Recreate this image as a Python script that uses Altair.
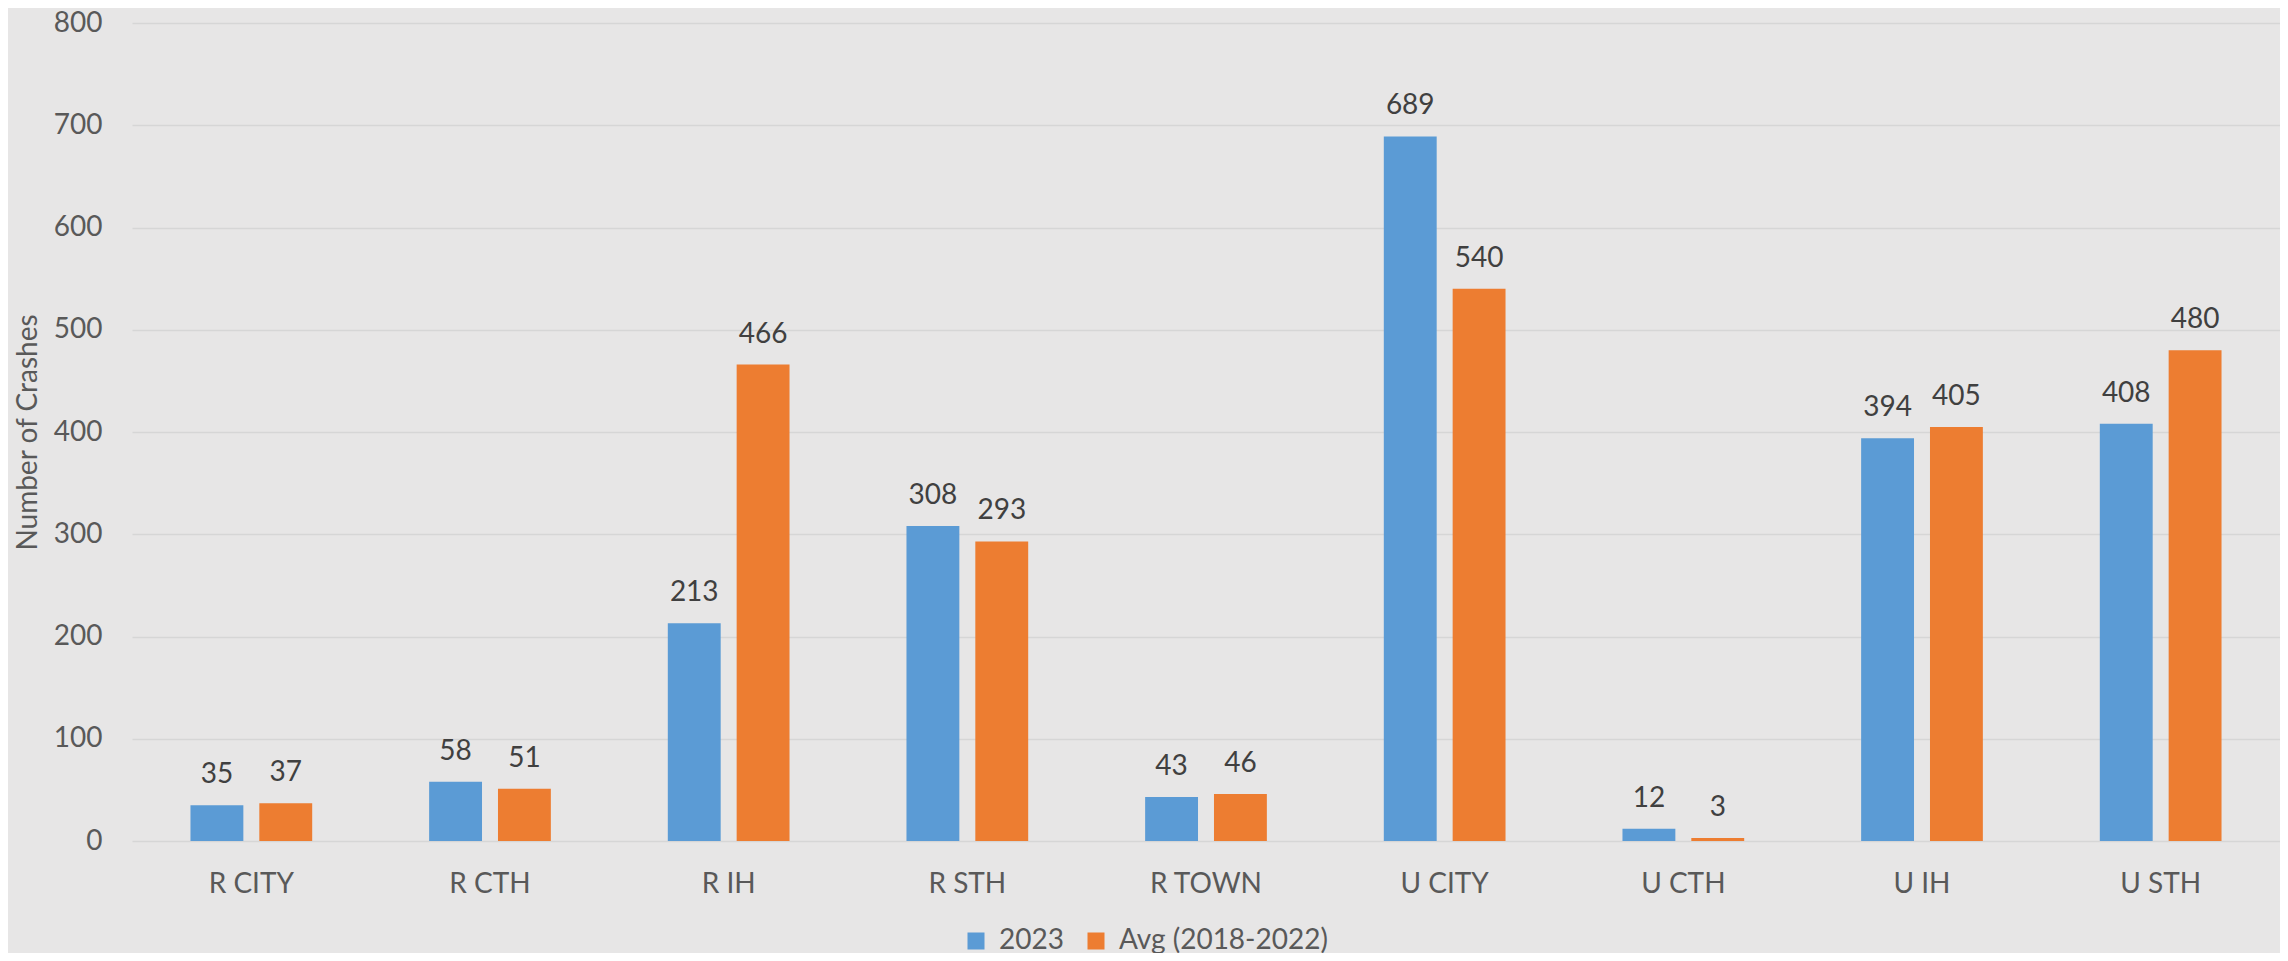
import altair as alt
import pandas as pd

categories = ["R CITY", "R CTH", "R IH", "R STH", "R TOWN", "U CITY", "U CTH", "U IH", "U STH"]
series_names = ["2023", "Avg (2018-2022)"]
values_2023 = [35, 58, 213, 308, 43, 689, 12, 394, 408]
values_avg = [37, 51, 466, 293, 46, 540, 3, 405, 480]
y_ticks = [0, 100, 200, 300, 400, 500, 600, 700, 800]
colors = ["#5b9bd5", "#ed7d31"]

rows = []
for c, a, b in zip(categories, values_2023, values_avg):
    rows.append({"cat": c, "series": series_names[0], "value": a})
    rows.append({"cat": c, "series": series_names[1], "value": b})
df = pd.DataFrame(rows)

FONT = "Lato"
FS = 28

base = alt.Chart(df).encode(
    x=alt.X(
        "cat:N",
        sort=categories,
        scale=alt.Scale(paddingInner=0.49, paddingOuter=0.245),
        axis=alt.Axis(
            title=None,
            labelAngle=0,
            labelFont=FONT,
            labelFontSize=FS,
            labelColor="#595959",
            labelPadding=29,
            ticks=False,
            domain=False,
            grid=False,
        ),
    ),
    xOffset=alt.XOffset(
        "series:N",
        sort=series_names,
        scale=alt.Scale(paddingInner=0.232, paddingOuter=0),
    ),
    y=alt.Y(
        "value:Q",
        scale=alt.Scale(domain=[0, 800], nice=False),
        axis=alt.Axis(
            title="Number of Crashes",
            values=y_ticks,
            titleFont=FONT,
            titleFontSize=FS,
            titleFontWeight="normal",
            titleColor="#595959",
            titlePadding=11,
            labelFont=FONT,
            labelFontSize=FS,
            labelColor="#595959",
            labelPadding=30,
            ticks=False,
            domain=False,
            gridColor="#d6d6d6",
            gridWidth=1.5,
        ),
    ),
)

bars = base.mark_bar().encode(
    color=alt.Color(
        "series:N",
        sort=series_names,
        scale=alt.Scale(domain=series_names, range=colors),
        legend=alt.Legend(
            title=None,
            orient="none",
            legendX=830,
            legendY=904,
            direction="horizontal",
            symbolType="square",
            symbolSize=289,
            symbolStrokeWidth=0,
            labelFont=FONT,
            labelFontSize=FS,
            labelColor="#595959",
            labelOffset=9,
            labelLimit=0,
            columnPadding=18,
            padding=0,
        ),
    )
)

labels = base.mark_text(
    baseline="alphabetic", dy=-22, font=FONT, fontSize=FS, color="#404040"
).encode(text="value:Q")

chart = (
    alt.layer(bars, labels)
    .properties(
        width=2148,
        height=818,
        autosize=alt.AutoSizeParams(type="none"),
        padding={"left": 124, "top": 15, "right": 0, "bottom": 112},
        background="#e7e6e6",
    )
    .configure_view(stroke="transparent")
)

chart.save("out.html", embed_options={"renderer": "svg", "actions": False})
